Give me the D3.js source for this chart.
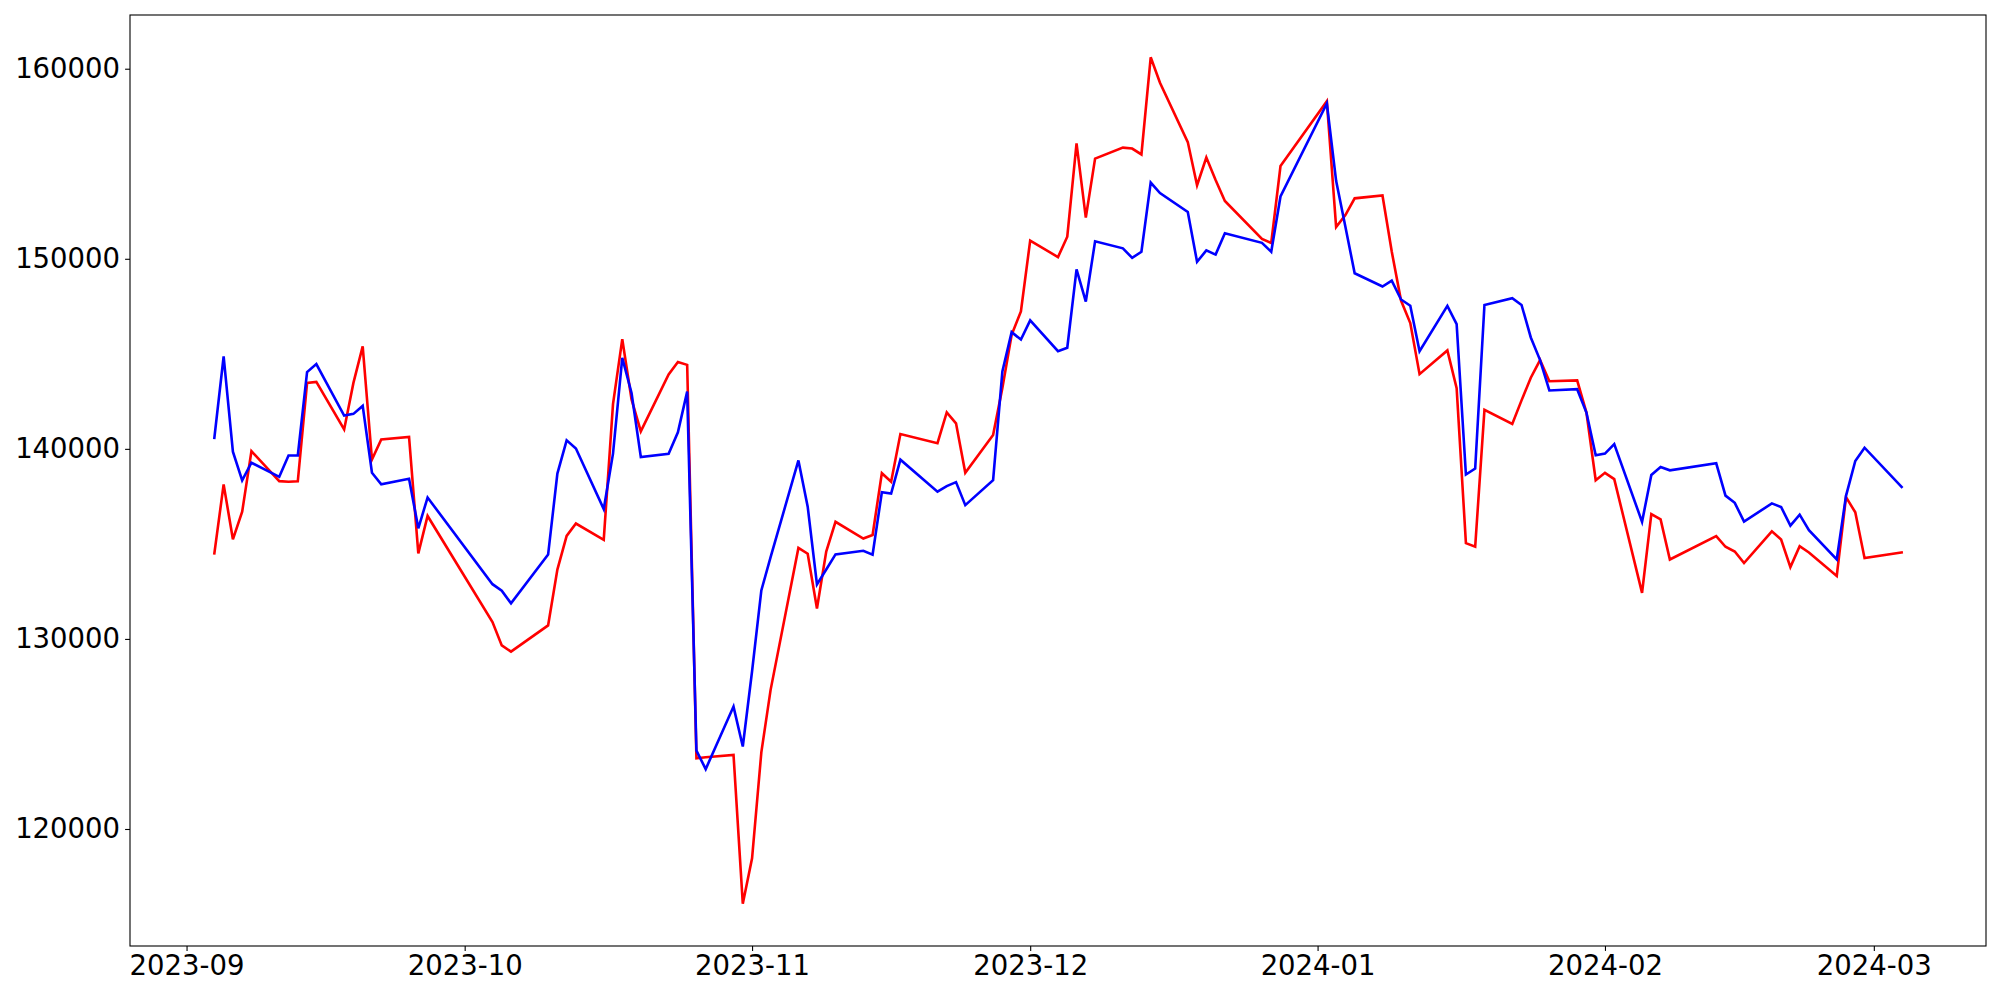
<!DOCTYPE html>
<html>
<head>
<meta charset="utf-8">
<script src="https://cdn.jsdelivr.net/npm/d3@7"></script>
<style>
  html, body { margin: 0; padding: 0; background: #ffffff; }
  svg { display: block; }
</style>
</head>
<body>
<script>
// ---- Data ----
const dates = [
  "2023-09-04","2023-09-05","2023-09-06","2023-09-07","2023-09-08","2023-09-11","2023-09-12","2023-09-13","2023-09-14","2023-09-15",
  "2023-09-18","2023-09-19","2023-09-20","2023-09-21","2023-09-22","2023-09-25","2023-09-26","2023-09-27",
  "2023-10-04","2023-10-05","2023-10-06","2023-10-10","2023-10-11","2023-10-12","2023-10-13","2023-10-16","2023-10-17","2023-10-18",
  "2023-10-19","2023-10-20","2023-10-23","2023-10-24","2023-10-25","2023-10-26","2023-10-27","2023-10-30","2023-10-31",
  "2023-11-01","2023-11-02","2023-11-03","2023-11-06","2023-11-07","2023-11-08","2023-11-09","2023-11-10","2023-11-13","2023-11-14",
  "2023-11-15","2023-11-16","2023-11-17","2023-11-21","2023-11-22","2023-11-23","2023-11-24","2023-11-27","2023-11-28","2023-11-29","2023-11-30",
  "2023-12-01","2023-12-04","2023-12-05","2023-12-06","2023-12-07","2023-12-08","2023-12-11","2023-12-12","2023-12-13","2023-12-14",
  "2023-12-15","2023-12-18","2023-12-19","2023-12-20","2023-12-21","2023-12-22","2023-12-26","2023-12-27","2023-12-28",
  "2024-01-02","2024-01-03","2024-01-04","2024-01-05","2024-01-08","2024-01-09","2024-01-10","2024-01-11","2024-01-12","2024-01-15",
  "2024-01-16","2024-01-17","2024-01-18","2024-01-19","2024-01-22","2024-01-23","2024-01-24","2024-01-25","2024-01-26","2024-01-29",
  "2024-01-30","2024-01-31","2024-02-01","2024-02-02","2024-02-05","2024-02-06","2024-02-07","2024-02-08","2024-02-13","2024-02-14",
  "2024-02-15","2024-02-16","2024-02-19","2024-02-20","2024-02-21","2024-02-22","2024-02-23","2024-02-26","2024-02-27","2024-02-28",
  "2024-02-29","2024-03-04"
];

const redValues = [
  134500,138130,135240,136690,139880,138300,138270,138290,143470,143520,
  141020,143470,145390,139440,140490,140630,134500,136470,
  130890,129660,129330,130710,133650,135420,136070,135210,142350,145770,
  142600,140920,143920,144570,144420,123720,123770,123900,116070,
  118460,124030,127320,134790,134480,131600,134600,136160,135280,135470,
  138720,138270,140780,140300,141920,141340,138740,140730,143200,146000,147230,
  150960,150090,151160,156070,152170,155270,155850,155800,155490,160600,
  159260,156140,153870,155330,154150,153040,151040,150830,154880,
  158290,151670,152300,153180,153330,150380,147800,146620,143930,145180,
  143190,135040,134850,142050,141310,142550,143740,144670,143560,143600,
  141910,138350,138740,138410,132420,136570,136290,134180,135410,134850,
  134600,133990,135660,135230,133780,134880,134550,133310,137460,136660,
  134250,134550
];

const blueValues = [
  140580,144860,139850,138340,139270,138530,139650,139650,144040,144460,
  141750,141840,142260,138740,138130,138430,135820,137440,
  132880,132540,131870,134440,138700,140450,140020,136830,139750,144790,
  142940,139570,139740,140870,143010,124120,123150,126440,124340,
  128300,132550,134300,139390,136960,132870,133650,134450,134640,134430,
  137720,137650,139430,137750,138040,138250,137040,138350,144070,146140,145750,
  146760,145140,145320,149440,147750,150920,150550,150050,150370,154010,
  153460,152460,149840,150440,150220,151340,150840,150370,153280,
  158170,154100,151680,149240,148540,148850,147860,147530,145140,147520,
  146560,138650,138960,147570,147930,147570,145860,144670,143070,143140,
  141910,139660,139750,140250,136160,138630,139050,138870,139240,137540,
  137160,136170,137130,136940,135960,136540,135720,134180,137530,139360,
  140060,138000
];

const seriesColors = ["#ff0000", "#0000ff"];
const yTickValues = [120000, 130000, 140000, 150000, 160000];
const xTickLabels = ["2023-09", "2023-10", "2023-11", "2023-12", "2024-01", "2024-02", "2024-03"];

// ---- Layout ----
const W = 2000, H = 1000;
const margin = { left: 130, top: 15, right: 14, bottom: 54 };
const plotW = W - margin.left - margin.right;
const plotH = H - margin.top - margin.bottom;

const parse = d3.timeParse("%Y-%m-%d");
const parseMonth = d3.timeParse("%Y-%m");
const xs = dates.map(parse);

// matplotlib-like 5% margins
const xExt = d3.extent(xs);
const xSpan = xExt[1] - xExt[0];
const allVals = redValues.concat(blueValues);
const yExt = d3.extent(allVals);
const ySpan = yExt[1] - yExt[0];

const x = d3.scaleTime()
  .domain([new Date(+xExt[0] - 0.05 * xSpan), new Date(+xExt[1] + 0.05 * xSpan)])
  .range([0, plotW]);
const y = d3.scaleLinear()
  .domain([yExt[0] - 0.05 * ySpan, yExt[1] + 0.05 * ySpan])
  .range([plotH, 0]);

const svg = d3.select("body").append("svg")
  .attr("width", W).attr("height", H)
  .style("font-family", "'DejaVu Sans', sans-serif");

svg.append("rect").attr("width", W).attr("height", H).attr("fill", "#ffffff");

const g = svg.append("g").attr("transform", `translate(${margin.left},${margin.top})`);

const line = d3.line()
  .x((d, i) => x(xs[i]))
  .y(d => y(d));

[redValues, blueValues].forEach((vals, k) => {
  g.append("path")
    .datum(vals)
    .attr("fill", "none")
    .attr("stroke", seriesColors[k])
    .attr("stroke-width", 2.6)
    .attr("stroke-linejoin", "miter")
    .attr("stroke-linecap", "square")
    .attr("d", line);
});

// ---- Axes ----
const fontSize = 27.5;
const xAxis = d3.axisBottom(x)
  .tickValues(xTickLabels.map(parseMonth))
  .tickFormat(d3.timeFormat("%Y-%m"))
  .tickSize(4.9)
  .tickPadding(5);
const yAxis = d3.axisLeft(y)
  .tickValues(yTickValues)
  .tickFormat(d3.format("d"))
  .tickSize(4.9)
  .tickPadding(5);

const gx = g.append("g").attr("transform", `translate(0,${plotH})`).call(xAxis);
const gy = g.append("g").call(yAxis);

[gx, gy].forEach(ax => {
  ax.select(".domain").remove();
  ax.selectAll(".tick line").attr("stroke", "#000").attr("stroke-width", 1.1);
  ax.selectAll(".tick text")
    .attr("fill", "#000")
    .style("font-size", fontSize + "px")
    .style("font-family", "'DejaVu Sans', sans-serif");
});

// frame
g.append("rect")
  .attr("x", 0).attr("y", 0)
  .attr("width", plotW).attr("height", plotH)
  .attr("fill", "none")
  .attr("stroke", "#000")
  .attr("stroke-width", 1.1);
</script>
</body>
</html>
